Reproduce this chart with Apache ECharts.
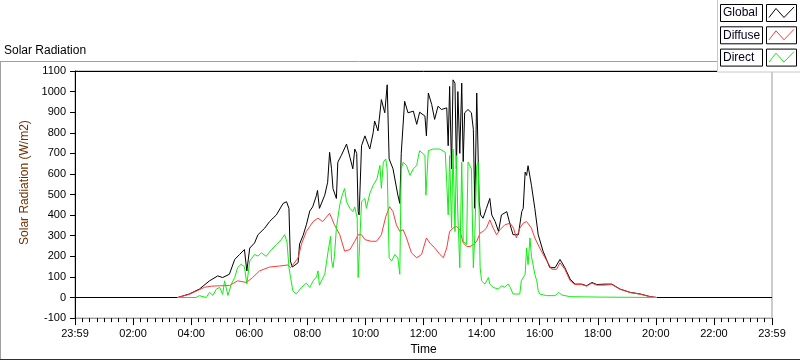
<!DOCTYPE html>
<html>
<head>
<meta charset="utf-8">
<script src="https://cdn.jsdelivr.net/npm/echarts@6/dist/echarts.min.js"></script>
<style>html,body{margin:0;padding:0;background:#fff}#c{width:800px;height:361px}</style>
</head>
<body>
<div id="c"></div>
<script>
// ---- data (x in minutes since 23:59 start of axis, y in W/m2) ----
const xTickLabels = ['23:59','02:00','04:00','06:00','08:00','10:00','12:00','14:00','16:00','18:00','20:00','22:00','23:59'];
const seriesNames = ['Global','Diffuse','Direct'];

const globalData = [[0,0],[212,0],[236,17],[257,41],[278,81],[295,105],[305,97],[319,113],[330,185],[340,209],[350,233],[355,129],[361,240],[371,265],[378,305],[392,337],[402,369],[416,401],[430,457],[437,465],[442,433],[445,177],[449,148],[461,169],[464,260],[471,300],[478,353],[485,420],[491,440],[499,497],[501,520],[505,433],[516,497],[522,560],[526,705],[530,625],[533,529],[540,481],[543,657],[550,689],[561,745],[568,681],[574,625],[578,721],[582,700],[585,417],[587,401],[592,737],[599,785],[609,721],[616,800],[619,857],[626,809],[633,961],[640,897],[645,1033],[649,673],[657,625],[667,497],[671,457],[674,700],[681,953],[688,897],[699,905],[706,841],[712,900],[723,881],[726,785],[730,993],[737,937],[743,865],[750,929],[757,913],[768,921],[771,737],[774,1025],[778,625],[781,1057],[785,1041],[788,625],[791,1000],[795,700],[799,1041],[802,660],[805,897],[812,913],[816,913],[819,897],[823,817],[826,433],[830,993],[833,985],[835,465],[838,401],[843,385],[850,433],[857,481],[861,401],[868,369],[875,321],[881,401],[892,417],[899,353],[905,305],[916,305],[923,417],[926,433],[930,609],[933,593],[936,640],[940,641],[943,545],[947,545],[950,433],[957,305],[967,225],[981,145],[992,145],[1002,185],[1012,145],[1023,89],[1033,65],[1047,65],[1057,57],[1068,73],[1078,63],[1095,65],[1109,65],[1126,41],[1147,25],[1168,17],[1189,4],[1202,0],[1440,0]];

const diffuseData = [[212,0],[236,15],[257,38],[268,50],[282,55],[298,57],[319,58],[336,81],[354,73],[367,97],[381,129],[402,148],[423,153],[440,158],[445,145],[450,158],[461,193],[468,260],[478,321],[492,369],[502,385],[512,369],[526,409],[530,400],[536,353],[547,305],[557,225],[568,233],[578,273],[585,305],[592,305],[599,281],[612,273],[623,273],[633,305],[642,393],[650,441],[657,417],[664,353],[671,321],[678,329],[685,289],[695,217],[706,193],[716,209],[726,289],[733,265],[743,241],[754,209],[761,193],[768,241],[774,321],[781,337],[788,345],[795,329],[802,265],[809,249],[816,247],[823,257],[830,273],[837,313],[843,321],[850,337],[857,377],[864,337],[871,305],[878,329],[888,353],[899,361],[906,337],[912,289],[919,337],[926,361],[933,369],[943,337],[950,289],[960,241],[971,193],[985,137],[995,137],[1002,169],[1012,137],[1023,81],[1033,63],[1047,63],[1057,55],[1068,70],[1078,60],[1095,60],[1109,63],[1126,40],[1147,24],[1168,16],[1189,3],[1202,0]];

const directData = [[212,0],[250,0],[257,9],[271,0],[278,25],[285,10],[292,41],[299,49],[305,15],[309,81],[316,10],[323,65],[330,97],[336,145],[343,161],[350,150],[355,65],[361,177],[371,209],[378,201],[385,217],[395,200],[406,233],[416,257],[426,281],[433,305],[438,270],[442,145],[445,137],[450,33],[457,17],[468,49],[471,40],[478,70],[485,49],[492,81],[499,100],[502,129],[505,60],[516,113],[523,225],[528,297],[530,180],[533,145],[536,200],[540,337],[543,385],[547,449],[552,497],[557,529],[561,465],[568,433],[574,417],[578,440],[583,385],[585,97],[587,200],[592,465],[599,481],[602,433],[609,505],[616,545],[624,577],[630,641],[633,530],[637,657],[642,673],[645,620],[649,193],[654,177],[661,209],[667,193],[671,113],[674,625],[678,657],[685,641],[692,593],[699,625],[706,641],[709,681],[712,713],[723,690],[725,497],[730,713],[740,721],[754,721],[765,705],[768,560],[771,401],[774,689],[778,337],[781,721],[785,320],[788,689],[791,400],[795,145],[799,657],[802,273],[809,257],[812,657],[816,649],[819,625],[823,145],[826,305],[830,641],[833,657],[837,145],[840,81],[847,65],[854,97],[857,65],[864,49],[875,41],[881,57],[888,50],[895,65],[899,50],[905,17],[919,17],[922,81],[930,113],[933,241],[936,160],[940,289],[943,200],[947,193],[950,113],[954,81],[957,33],[960,17],[974,9],[992,9],[999,25],[1006,12],[1023,4],[1085,2],[1202,0]];

const FONT = 'Liberation Sans';
const chart = echarts.init(document.getElementById('c'), null, {renderer: 'canvas'});

function legendEntry(i, name, color) {
  const y0 = 4.5 + i * 22.3;
  return [
    {type: 'rect', z: 101, shape: {x: 720.5, y: y0, width: 42, height: 17}, style: {fill: '#fff', stroke: '#000', lineWidth: 1}},
    {type: 'text', z: 102, style: {x: 723, y: y0 + 8.5, text: name, fill: '#000022', font: '12px ' + FONT, textVerticalAlign: 'middle'}},
    {type: 'rect', z: 101, shape: {x: 766.5, y: y0, width: 30, height: 17}, style: {fill: '#fff', stroke: '#000', lineWidth: 1}},
    {type: 'polyline', z: 102, shape: {points: [[769, y0 + 13], [776, y0 + 4], [784, y0 + 13], [794, y0 + 2.5]]}, style: {stroke: color, lineWidth: 1, fill: null}}
  ];
}

const colors = ['#000000', '#ff3a3a', '#10ee10'];

const option = {
  animation: false,
  backgroundColor: '#ffffff',
  textStyle: {fontFamily: FONT},
  grid: {left: 75, right: 28, top: 71, bottom: 40, show: true, borderColor: '#9a9a9a', borderWidth: 1, backgroundColor: '#fff'},
  xAxis: {
    type: 'value', min: 0, max: 1440, interval: 120,
    name: 'Time', nameLocation: 'middle', nameGap: 25,
    nameTextStyle: {color: '#000', fontSize: 12, fontFamily: FONT},
    axisLine: {show: true, onZero: false, lineStyle: {color: '#9a9a9a'}},
    axisTick: {show: true, length: 7, lineStyle: {color: '#000'}},
    minorTick: {show: true, splitNumber: 8, length: 4, lineStyle: {color: '#000'}},
    axisLabel: {color: '#000', fontSize: 11, fontFamily: FONT, margin: 10, showMinLabel: true, showMaxLabel: true,
      formatter: v => xTickLabels[Math.round(v / 120)]},
    splitLine: {show: false}
  },
  yAxis: {
    type: 'value', min: -100, max: 1100, interval: 100,
    name: 'Solar Radiation (W/m2)', nameLocation: 'middle', nameGap: 24, nameRotate: 90,
    nameTextStyle: {color: '#6e3000', fontSize: 12, fontFamily: FONT, padding: [0, 0, 0, 24]},
    axisLine: {show: true, onZero: false, lineStyle: {color: '#000'}},
    axisTick: {show: true, length: 5, lineStyle: {color: '#000'}},
    axisLabel: {color: '#000', fontSize: 11, fontFamily: FONT, margin: 9, formatter: v => String(v)},
    splitLine: {show: false}
  },
  series: [
    {name: seriesNames[0], type: 'line', data: globalData, showSymbol: false, lineStyle: {color: colors[0], width: 1}, itemStyle: {color: colors[0]}},
    {name: seriesNames[1], type: 'line', data: diffuseData, showSymbol: false, lineStyle: {color: colors[1], width: 1}, itemStyle: {color: colors[1]}},
    {name: seriesNames[2], type: 'line', data: directData, showSymbol: false, lineStyle: {color: colors[2], width: 1}, itemStyle: {color: colors[2]}}
  ],
  graphic: [
    {type: 'line', z: 50, shape: {x1: 0, y1: 61.5, x2: 717, y2: 61.5}, style: {stroke: '#a0a0a0', lineWidth: 1}},
    {type: 'line', z: 50, shape: {x1: 0.5, y1: 61.5, x2: 0.5, y2: 359.5}, style: {stroke: '#a0a0a0', lineWidth: 1}},
    {type: 'line', z: 50, shape: {x1: 0, y1: 359.5, x2: 800, y2: 359.5}, style: {stroke: '#303030', lineWidth: 1}},
    {type: 'line', z: 50, shape: {x1: 75, y1: 71.5, x2: 772, y2: 71.5}, style: {stroke: '#000', lineWidth: 1}},
    {type: 'text', z: 50, style: {x: 4, y: 51, text: 'Solar Radiation', fill: '#000', font: '12px ' + FONT, textVerticalAlign: 'middle'}},
    {type: 'rect', z: 100, shape: {x: 717.5, y: -1, width: 90, height: 73}, style: {fill: '#fff', stroke: '#c8c8c8', lineWidth: 1}}
  ].concat(legendEntry(0, seriesNames[0], colors[0]), legendEntry(1, seriesNames[1], colors[1]), legendEntry(2, seriesNames[2], colors[2]))
};
chart.setOption(option);
</script>
</body>
</html>
